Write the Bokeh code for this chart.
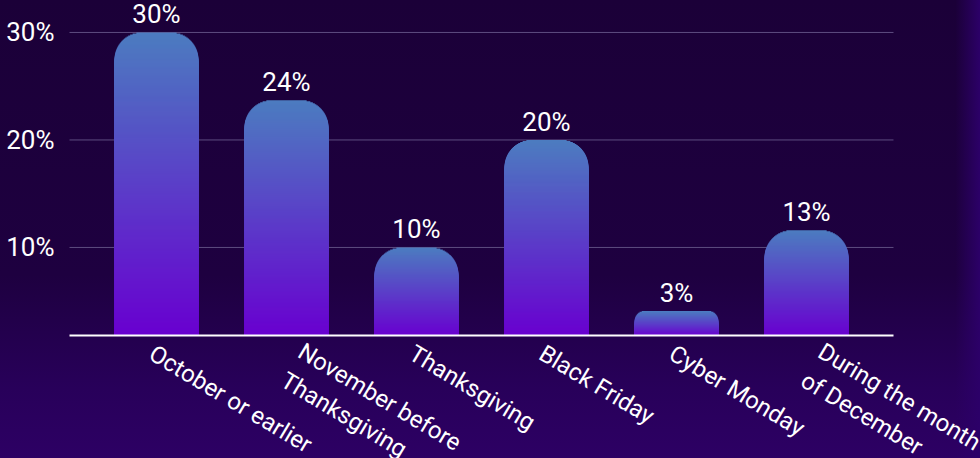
import numpy as np
from bokeh.plotting import figure
from bokeh.models import FixedTicker, Range1d
from bokeh.embed import file_html
from bokeh.resources import INLINE
from bokeh.core.properties import value

# ---------------- data ----------------
categories = ["October or earlier", "November before\nThanksgiving", "Thanksgiving",
              "Black Friday", "Cyber Monday", "During the month\nof December"]
bar_values = [30.0, 23.7, 10.0, 20.0, 4.1, 11.6]
value_labels = ["30%", "24%", "10%", "20%", "3%", "13%"]
y_ticks = [10, 20, 30]
y_tick_labels = ["10%", "20%", "30%"]

# ---------------- layout (pixels) ----------------
W, H = 980, 458
AREA_L, AREA_R, AREA_B = 69, 893, 335      # plotting area inside the figure
PX_X, PX_Y = 130.0, 10.75                  # pixels per category / per percent
XL, XR = -0.669, 5.669                     # plotting-area x bounds (data)
Y0 = 1.81                                  # baseline of the bars (data)
X0 = XL - AREA_L / PX_X
X1 = XR + (W - AREA_R) / PX_X
YT = Y0 + AREA_B / PX_Y
YB = Y0 - (H - AREA_B) / PX_Y
BAR_W = 0.646

top_col = np.array([76, 124, 192])
bot_col = np.array([105, 0, 208])

p = figure(width=W, height=H, output_backend="svg", toolbar_location=None,
           x_range=Range1d(X0, X1), y_range=Range1d(YB, YT),
           min_border=0)
p.background_fill_alpha = 0
p.border_fill_alpha = 0
p.outline_line_color = None
p.styles = {
    "background": "linear-gradient(to right, rgba(0,0,0,0) 97.5%, rgba(44,0,104,1) 100%), "
                  "linear-gradient(180deg, #1b0038 0%, #1e0040 60%, #28005a 85%, #2d0064 100%)",
}

# grid lines across the plotting area
p.segment(x0=XL, x1=XR, y0=y_ticks, y1=y_ticks, line_color="#5e4c80", line_width=1)

# gradient bars with rounded top corners, drawn as stacked slices
sx, stop, swid, scol = [], [], [], []
for i, v in enumerate(bar_values):
    h_px = (v - Y0) * PX_Y
    w_px = BAR_W * PX_X
    r_px = min(27.0, 0.42 * h_px)
    n = int(np.ceil(h_px))
    for j in range(n, 0, -1):
        t_px = h_px * j / n
        ym = t_px - 0.5 * h_px / n
        d = ym - (h_px - r_px)
        inset = r_px - np.sqrt(max(r_px ** 2 - d ** 2, 0.0)) if d > 0 else 0.0
        f = t_px / h_px
        c = bot_col + (top_col - bot_col) * f
        sx.append(i)
        stop.append(Y0 + t_px / PX_Y)
        swid.append((w_px - 2 * inset) / PX_X)
        scol.append("#%02x%02x%02x" % tuple(int(round(k)) for k in c))

p.vbar(x=sx, top=stop, bottom=Y0, width=swid, fill_color=scol, line_color=None)

# value labels above bars
p.text(x=list(range(len(bar_values))), y=bar_values, text=value_labels,
       text_align="center", text_baseline="alphabetic", y_offset=-18,
       text_color="white", text_font=value("Roboto"), text_font_size="26px")

# category labels below the axis (rotated, multi-line aware)
nlines = [c.count("\n") + 1 for c in categories]
p.text(x=list(range(len(categories))), y=[Y0] * len(categories), text=categories,
       x_offset=[2 + 19 * (k - 1) for k in nlines],
       y_offset=[4 - 2 * (k - 1) for k in nlines],
       angle=-0.54, text_align="left", text_baseline="top", text_line_height=1.2,
       text_color="white", text_font=value("Roboto"), text_font_size="24px")

# axes (placed at fixed data locations so they take no border space)
p.yaxis.fixed_location = XL
p.yaxis.ticker = FixedTicker(ticks=y_ticks)
p.yaxis.major_label_overrides = dict(zip(y_ticks, y_tick_labels))
p.yaxis.axis_line_color = None
p.yaxis.major_tick_line_color = None
p.yaxis.minor_tick_line_color = None
p.yaxis.major_tick_out = 0
p.yaxis.major_tick_in = 0
p.yaxis.major_label_standoff = 15
p.yaxis.major_label_text_color = "white"
p.yaxis.major_label_text_font = "Roboto"
p.yaxis.major_label_text_font_size = "26px"

p.xaxis.fixed_location = Y0
p.xaxis.bounds = (XL, XR)
p.xaxis.ticker = FixedTicker(ticks=[])
p.xaxis.axis_line_color = "white"
p.xaxis.axis_line_width = 2
p.xaxis.major_tick_line_color = None
p.xaxis.minor_tick_line_color = None

p.xgrid.visible = False
p.ygrid.visible = False

open("out.html", "w").write(file_html(p, INLINE))
